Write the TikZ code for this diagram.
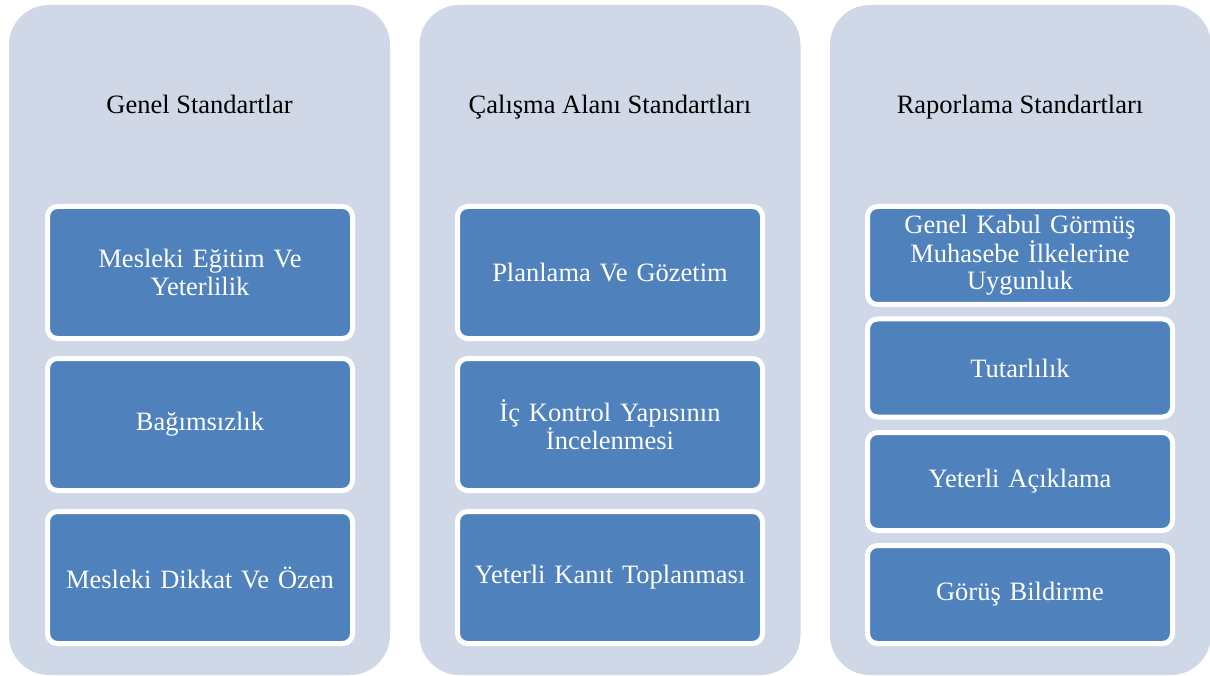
\documentclass[tikz,border=0pt]{standalone}
\usepackage{fontspec}
\setmainfont{Liberation Serif}
\definecolor{panelfill}{HTML}{D0D8E8}
\definecolor{itemblue}{HTML}{4F81BD}
\begin{document}
\begin{tikzpicture}[x=1pt,y=-1pt,
  panel/.style={fill=panelfill, rounded corners=40pt, minimum width=381pt, minimum height=670pt, inner sep=0pt},
  heading/.style={anchor=base, font=\fontsize{26.5}{27.5}\selectfont, text=black},
  itemtall/.style={fill=itemblue, draw=white, line width=5pt, rounded corners=10pt,
    minimum width=305pt, minimum height=132pt, inner sep=0pt, text width=300pt, align=center,
    text=white, font=\fontsize{26.5}{27.5}\selectfont},
  itemshort/.style={itemtall, minimum height=98pt}]
\useasboundingbox (0,0) rectangle (1210,676);

% column panels
\node[panel] (p1) at (199.5,340) {};
\node[panel] (p2) at (610,340) {};
\node[panel] (p3) at (1020.5,340) {};

% column headings
\node[heading] (h1) at (199.5,114) {Genel Standartlar};
\node[heading] (h2) at (610,114) {Çalışma Alanı Standartları};
\node[heading] (h3) at (1020,114) {Raporlama Standartları};

% general standards
\node[itemtall] (a1) at (200,272.5) {Mesleki Eğitim Ve\\Yeterlilik};
\node[itemtall] (a2) at (200,424.5) {Bağımsızlık};
\node[itemtall] (a3) at (200,577.5) {Mesleki Dikkat Ve Özen};

% fieldwork standards
\node[itemtall] (b1) at (610,272.5) {Planlama Ve Gözetim};
\node[itemtall] (b2) at (610,424.5) {İç Kontrol Yapısının\\İncelenmesi};
\node[itemtall] (b3) at (610,577.5) {Yeterli Kanıt Toplanması};

% reporting standards
\node[itemshort] (c1) at (1020,255.5) {Genel Kabul Görmüş\\Muhasebe İlkelerine\\Uygunluk};
\node[itemshort] (c2) at (1020,368) {Tutarlılık};
\node[itemshort] (c3) at (1020,481.5) {Yeterli Açıklama};
\node[itemshort] (c4) at (1020,594.5) {Görüş Bildirme};
\end{tikzpicture}
\end{document}
